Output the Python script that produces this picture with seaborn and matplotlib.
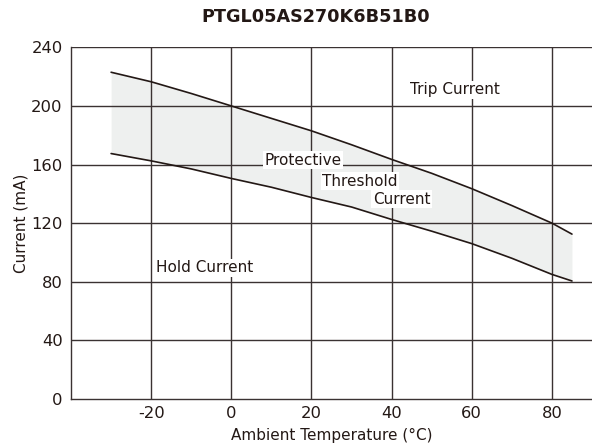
import matplotlib
matplotlib.use("Agg")
import matplotlib.pyplot as plt
import seaborn as sns
import pandas as pd

title = "PTGL05AS270K6B51B0"
temps = [-30, -20, -10, 0, 10, 20, 30, 40, 50, 60, 70, 80, 85]
trip_current = [223, 216.5, 208.5, 200, 191.5, 183, 173.5, 163.5, 154, 143.5, 132, 120, 112.5]
hold_current = [167.5, 162.5, 157, 150.5, 144.5, 137.5, 131, 122.5, 114.5, 106, 96, 85, 80.5]
x_ticks = [-20, 0, 20, 40, 60, 80]
y_ticks = [0, 40, 80, 120, 160, 200, 240]

sns.set_theme(style="white")
plt.rcParams['font.family'] = ['DejaVu Sans']
plt.rcParams['axes.unicode_minus'] = False

df = pd.DataFrame({"temp": temps, "trip": trip_current, "hold": hold_current})

fig = plt.figure(figsize=(5.92, 4.45), dpi=100)
ax = fig.add_axes([0.12, 0.1036, 0.88, 0.79])

ink = "#231815"
grid = "#3a3232"
ax.fill_between(df["temp"], df["hold"], df["trip"], color="#eef0ef", linewidth=0, zorder=1)
for x in x_ticks:
    ax.axvline(x, color=grid, linewidth=1.0, zorder=2)
for y in y_ticks[1:]:
    ax.axhline(y, color=grid, linewidth=1.0, zorder=2)
sns.lineplot(data=df, x="temp", y="trip", ax=ax, color=ink, linewidth=1.2, zorder=3)
sns.lineplot(data=df, x="temp", y="hold", ax=ax, color=ink, linewidth=1.2, zorder=3)

ax.set_xlim(-40, 90)
ax.set_ylim(0, 240)
ax.set_xticks(x_ticks)
ax.set_yticks(y_ticks)
ax.tick_params(axis="both", labelsize=11.8, colors=ink, length=0)
ax.tick_params(axis="x", pad=5)
ax.tick_params(axis="y", pad=6)
for s in ["top", "right"]:
    ax.spines[s].set_visible(False)
for s in ["left", "bottom"]:
    ax.spines[s].set_color(grid)
    ax.spines[s].set_linewidth(1.0)

ax.set_xlabel("Ambient Temperature (°C)", fontsize=11, color=ink, labelpad=5)
ax.set_ylabel("Current (mA)", fontsize=11, color=ink, labelpad=2)

box = dict(facecolor="white", edgecolor="none", pad=1.0)
fs = 11
ax.text(44.6, 211, "Trip Current", fontsize=fs, color=ink, va="center", ha="left", bbox=box, zorder=4)
ax.text(-18.7, 89.4, "Hold Current", fontsize=fs, color=ink, va="center", ha="left", bbox=box, zorder=4)
ax.text(8.3, 163, "Protective", fontsize=fs, color=ink, va="center", ha="left", bbox=box, zorder=4)
ax.text(22.6, 148.7, "Threshold", fontsize=fs, color=ink, va="center", ha="left", bbox=box, zorder=4)
ax.text(35.3, 136.3, "Current", fontsize=fs, color=ink, va="center", ha="left", bbox=box, zorder=4)

fig.text(316 / 592, 1 - 17 / 445, title, fontsize=12.7, fontweight="bold", color=ink, ha="center", va="center")

fig.savefig("out.png", dpi=100)
